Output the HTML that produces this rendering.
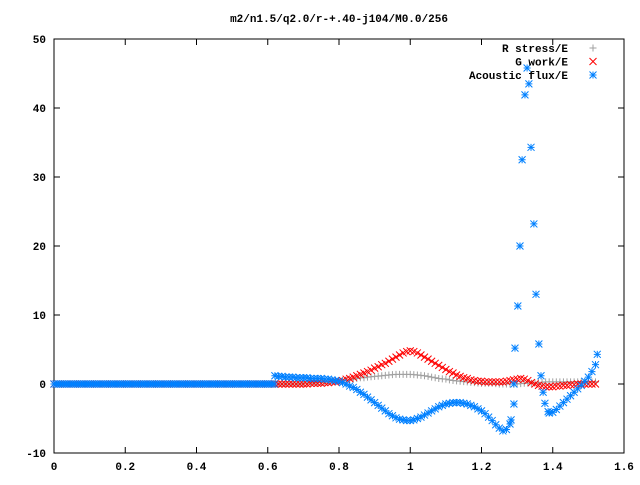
<!DOCTYPE html>
<html><head><meta charset="utf-8"><style>
body{margin:0;background:#fff}
svg text{font-family:"Liberation Mono",monospace;font-size:11px;font-weight:bold;fill:#000}
</style></head><body>
<svg id="chart" width="640" height="480" xmlns="http://www.w3.org/2000/svg">
<rect width="640" height="480" fill="#fff"/>
<text x="339" y="22" text-anchor="middle">m2/n1.5/q2.0/r-+.40-j104/M0.0/256</text>
<g id="axes"></g>
<g id="marks"></g>
<g id="legend"></g>
</svg>
<script>
const xTicks=[0,0.2,0.4,0.6,0.8,1,1.2,1.4,1.6];
const xTickLabels=["0","0.2","0.4","0.6","0.8","1","1.2","1.4","1.6"];
const yTicks=[-10,0,10,20,30,40,50];
const yTickLabels=["-10","0","10","20","30","40","50"];
// grid from 0.62 to 1.52, step 0.01
const gridStart=0.62, gridStep=0.01;
const stressY=[0,0,0,0,0,0,0,0,0.1,0.1,0.1,0.1,0.2,0.2,0.2,0.3,0.3,0.3,
0.4,0.5,0.6,0.6,0.7,0.8,0.9,0.9,1.0,1.05,1.1,1.15,1.2,1.25,1.3,1.35,1.4,1.4,1.4,1.4,1.4,1.35,1.3,1.25,1.2,1.1,1.0,0.9,0.8,0.75,0.7,0.6,0.5,0.45,0.4,0.35,0.3,0.25,0.2,0.15,0.1,0.1,0.1,0.1,0.05,0,0,0,0,0,0,0.05,0.1,0.1,0.1,0.15,0.2,0.25,0.3,0.3,0.3,0.3,0.3,0.3,0.3,0.3,0.3,0.3,0.3,0.3,0.3,0.3,0.3];
const workY=[0,0,0,0,0,0,0,0,0,0,0.1,0.1,0.1,0.1,0.2,0.2,0.3,0.3,
0.4,0.5,0.7,0.8,1.0,1.2,1.4,1.6,1.8,2.0,2.3,2.5,2.8,3.0,3.3,3.6,3.9,4.2,4.5,4.7,4.8,4.7,4.5,4.2,3.9,3.6,3.3,3.0,2.7,2.4,2.1,1.8,1.6,1.3,1.1,0.9,0.8,0.6,0.5,0.4,0.4,0.3,0.3,0.3,0.3,0.3,0.3,0.4,0.5,0.6,0.7,0.8,0.7,0.5,0.2,0,-0.2,-0.3,-0.4,-0.4,-0.4,-0.3,-0.3,-0.2,-0.2,-0.1,-0.1,0,0,0,0,0,0];
const fluxX=[0.62,0.63,0.64,0.65,0.66,0.67,0.68,0.69,0.70,0.71,0.72,0.73,0.74,0.75,0.76,0.77,0.78,0.79,0.80,0.81,0.82,0.83,0.84,0.85,0.86,0.87,0.88,0.89,0.90,0.91,0.92,0.93,0.94,0.95,0.96,0.97,0.98,0.99,1.00,1.01,1.02,1.03,1.04,1.05,1.06,1.07,1.08,1.09,1.10,1.11,1.12,1.13,1.14,1.15,1.16,1.17,1.18,1.19,1.20,1.21,1.22,1.23,1.24,1.25,1.26,1.27,1.28,1.283,1.291,1.291,1.294,1.302,1.308,1.314,1.322,1.328,1.333,1.339,1.347,1.353,1.361,1.367,1.373,1.378,1.387,1.39,1.40,1.41,1.42,1.43,1.44,1.45,1.46,1.47,1.48,1.49,1.50,1.51,1.52,1.525];
const fluxY=[1.2,1.1,1.1,1.0,1.0,1.0,0.9,0.9,0.9,0.9,0.8,0.8,0.8,0.8,0.7,0.7,0.6,0.5,0.4,0.2,0,-0.3,-0.5,-0.8,-1.2,-1.5,-1.9,-2.3,-2.7,-3.1,-3.5,-3.9,-4.3,-4.6,-4.9,-5.1,-5.2,-5.3,-5.3,-5.2,-5.0,-4.8,-4.5,-4.2,-3.9,-3.6,-3.3,-3.1,-2.9,-2.8,-2.7,-2.7,-2.7,-2.8,-2.9,-3.1,-3.3,-3.6,-3.9,-4.3,-4.8,-5.3,-5.9,-6.4,-6.8,-6.6,-5.8,-5.2,-2.9,0,5.2,11.3,20,32.5,41.9,45.8,43.5,34.3,23.2,13,5.8,1.2,-1.2,-2.8,-4.0,-4.2,-4.1,-3.7,-3.2,-2.7,-2.2,-1.7,-1.2,-0.7,-0.2,0.4,1.0,1.8,2.8,4.3];

const L=54,R=624,T=39,B=453,xmin=0,xmax=1.6,ymin=-10,ymax=50;
const sx=v=>L+(v-xmin)/(xmax-xmin)*(R-L);
const sy=v=>B-(v-ymin)/(ymax-ymin)*(B-T);
const NS="http://www.w3.org/2000/svg";
function mk(tag,attrs,parent){const e=document.createElementNS(NS,tag);for(const k in attrs)e.setAttribute(k,attrs[k]);parent.appendChild(e);return e;}
const axes=document.getElementById('axes'),marks=document.getElementById('marks'),legend=document.getElementById('legend');
const frame=mk('rect',{x:L,y:T,width:R-L,height:B-T,fill:'none',stroke:'#000','stroke-width':1},axes);


xTicks.forEach((v,i)=>{const x=sx(v);
 mk('path',{d:`M${x} ${B}v-6M${x} ${T}v6`,stroke:'#000'},axes);
 const t=mk('text',{x:x,y:B+17,'text-anchor':'middle'},axes);t.textContent=xTickLabels[i];
 
 });
yTicks.forEach((v,i)=>{const y=sy(v);
 mk('path',{d:`M${L} ${y}h6M${R} ${y}h-6`,stroke:'#000'},axes);
 const t=mk('text',{x:L-8,y:y+4,'text-anchor':'end'},axes);t.textContent=yTickLabels[i];
 
 });
const s=3.5;
function plus(x,y,c,g){mk('path',{d:`M${x-s} ${y}h${2*s}M${x} ${y-s}v${2*s}`,stroke:c,'stroke-width':1,fill:'none'},g);}
function cross(x,y,c,g){mk('path',{d:`M${x-s} ${y-s}l${2*s} ${2*s}M${x-s} ${y+s}l${2*s} ${-2*s}`,stroke:c,'stroke-width':1,fill:'none'},g);}
function star(x,y,c,g){plus(x,y,c,g);cross(x,y,c,g);}
function series(name){const g=mk('g',{},marks);return g;}
const gS=series('r-stress-series'),gW=series('g-work-series'),gF=series('acoustic-flux-series');
// zero region before grid
for(let x=0;x<gridStart-1e-9;x+=0.006){plus(sx(x),sy(0),'#a0a0a0',gS);cross(sx(x),sy(0),'#ff0000',gW);star(sx(x),sy(0),'#0080ff',gF);}
stressY.forEach((v,i)=>plus(sx(gridStart+i*gridStep),sy(v),'#a0a0a0',gS));
workY.forEach((v,i)=>cross(sx(gridStart+i*gridStep),sy(v),'#ff0000',gW));
fluxX.forEach((x,i)=>star(sx(x),sy(fluxY[i]),'#0080ff',gF));
const leg=[['R stress/E','#a0a0a0',plus,'legend-r-stress'],['G work/E','#ff0000',cross,'legend-g-work'],['Acoustic flux/E','#0080ff',star,'legend-acoustic-flux']];
leg.forEach((e,i)=>{const y=48+i*13.5;const g=mk('g',{},legend);
 
 
 const t=mk('text',{x:568,y:y+4,'text-anchor':'end'},g);t.textContent=e[0];e[2](593,y,e[1],g);});
</script>
</body></html>
